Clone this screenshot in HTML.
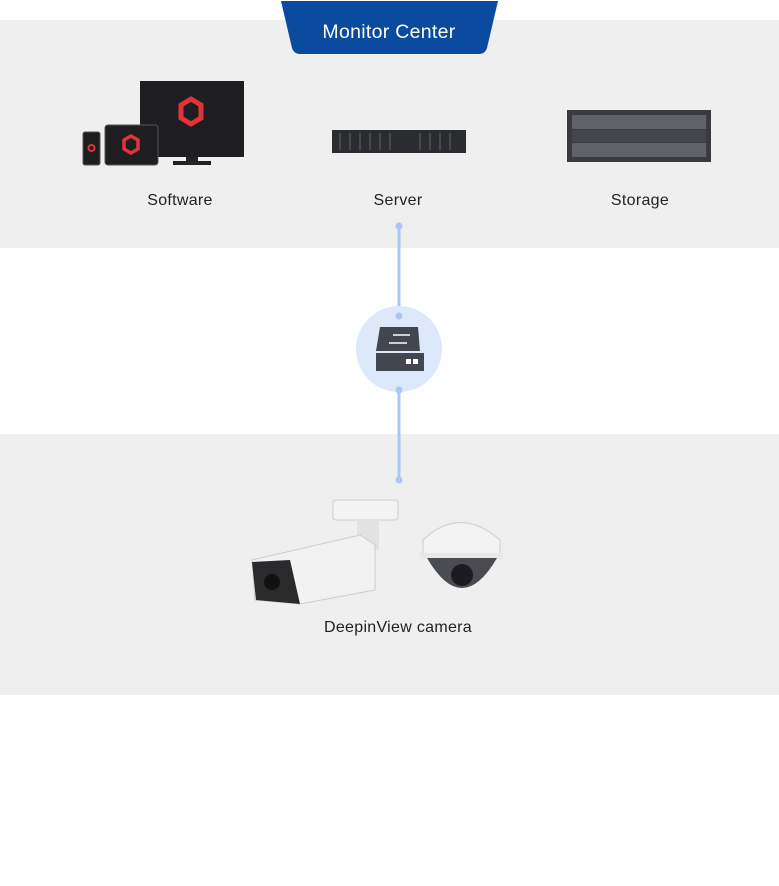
<!DOCTYPE html>
<html><head><meta charset="utf-8"><style>
body{margin:0;width:779px;height:886px;background:#fff;position:relative;font-family:"Liberation Sans",sans-serif;overflow:hidden}
.band{position:absolute;left:0;width:779px;background:#efefef}
.lbl{position:absolute;font-size:16px;color:#222;text-align:center;width:200px;letter-spacing:0.3px}
</style></head><body>
<div class="band" style="top:20px;height:228px"></div>
<div class="band" style="top:434px;height:261px"></div>
<svg width="779" height="886" style="position:absolute;left:0;top:0">
<path d="M281,1 L498,1 L487,48 Q485,54 479,54 L300,54 Q294,54 292,48 Z" fill="#0a4a9f"/>
<text x="389" y="38" font-family="Liberation Sans" font-size="19.5" fill="#fff" text-anchor="middle" letter-spacing="0.3">Monitor Center</text>
<rect x="140" y="81" width="104" height="76" fill="#1e1e20"/>
<rect x="186" y="157" width="12" height="5" fill="#222"/>
<rect x="173" y="161" width="38" height="4" fill="#222"/>
<polygon points="191,99 201,105 201,118 191,124 181,118 181,105" fill="none" stroke="#e0333a" stroke-width="5"/>
<rect x="105" y="125" width="53" height="40" rx="3" fill="#1e1e20" stroke="#555" stroke-width="1"/>
<polygon points="131,136 138,140 138,149 131,153 124,149 124,140" fill="none" stroke="#e0333a" stroke-width="3.5"/>
<rect x="83" y="132" width="17" height="33" rx="2" fill="#1e1e20" stroke="#555" stroke-width="1"/>
<circle cx="91.5" cy="148" r="3" fill="none" stroke="#e0333a" stroke-width="2"/>
<rect x="332" y="130" width="134" height="23" fill="#2a2c30"/>
<g stroke="#666" stroke-width="1"><line x1="340" y1="133" x2="340" y2="150"/><line x1="350" y1="133" x2="350" y2="150"/><line x1="360" y1="133" x2="360" y2="150"/><line x1="370" y1="133" x2="370" y2="150"/><line x1="380" y1="133" x2="380" y2="150"/><line x1="390" y1="133" x2="390" y2="150"/><line x1="420" y1="133" x2="420" y2="150"/><line x1="430" y1="133" x2="430" y2="150"/><line x1="440" y1="133" x2="440" y2="150"/><line x1="450" y1="133" x2="450" y2="150"/></g>
<rect x="567" y="110" width="144" height="52" fill="#3a3b3f"/>
<rect x="572" y="115" width="134" height="14" fill="#606268"/>
<rect x="572" y="143" width="134" height="14" fill="#606268"/>
<rect x="572" y="130" width="134" height="12" fill="#45464b"/>
<line x1="399" y1="226" x2="399" y2="480" stroke="#a9c6f7" stroke-width="3"/>
<circle cx="399" cy="349" r="43" fill="#dde8fb"/>
<circle cx="399" cy="226" r="3.5" fill="#a9c6f7"/>
<circle cx="399" cy="316" r="3.5" fill="#a9c6f7"/>
<circle cx="399" cy="390" r="3.5" fill="#a9c6f7"/>
<circle cx="399" cy="480" r="3.5" fill="#a9c6f7"/>
<polygon points="380,327 418,327 420,351 376,351" fill="#43454f"/>
<rect x="376" y="353" width="48" height="18" fill="#43454f"/>
<rect x="406" y="359" width="5" height="5" fill="#fff"/><rect x="413" y="359" width="5" height="5" fill="#fff"/>
<line x1="393" y1="335" x2="410" y2="335" stroke="#fff" stroke-width="1.5"/>
<line x1="389" y1="343" x2="407" y2="343" stroke="#fff" stroke-width="1.5"/>
<rect x="333" y="500" width="65" height="20" rx="3" fill="#f4f4f4" stroke="#ccc"/>
<rect x="357" y="520" width="22" height="30" fill="#e2e2e2"/>
<polygon points="252,560 360,535 375,545 375,590 300,604 255,600" fill="#f2f2f2" stroke="#ccc"/>
<polygon points="252,562 290,560 300,604 256,600" fill="#2a2a2d"/>
<circle cx="272" cy="582" r="8" fill="#111"/>
<path d="M423,540 Q460,505 500,540 L500,555 L423,555 Z" fill="#f3f3f3" stroke="#ccc"/>
<rect x="420" y="553" width="83" height="6" fill="#e8e8e8"/>
<path d="M427,558 Q462,618 497,558 Z" fill="#4a4c52"/>
<circle cx="462" cy="575" r="11" fill="#1c1c20"/>
</svg>
<div class="lbl" style="left:80px;top:192px">Software</div>
<div class="lbl" style="left:298px;top:192px">Server</div>
<div class="lbl" style="left:540px;top:192px">Storage</div>
<div class="lbl" style="left:298px;top:619px">DeepinView camera</div>
</body></html>
